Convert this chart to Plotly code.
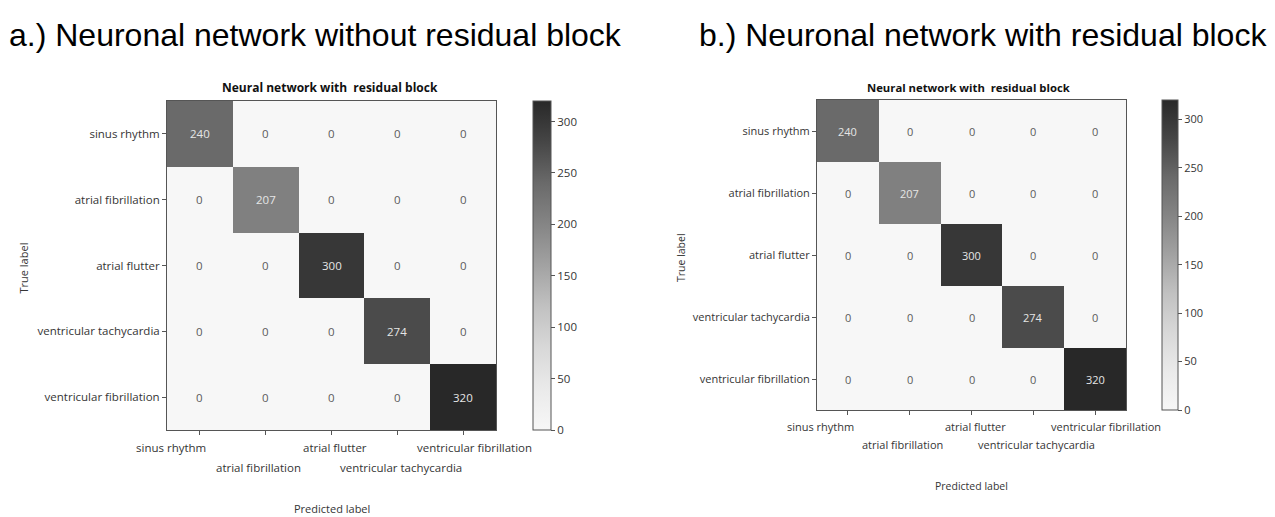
import plotly.graph_objects as go

# ---------------- data ----------------
classes = ["sinus rhythm", "atrial fibrillation", "atrial flutter",
           "ventricular tachycardia", "ventricular fibrillation"]
matrix_a = [[240, 0, 0, 0, 0],
            [0, 207, 0, 0, 0],
            [0, 0, 300, 0, 0],
            [0, 0, 0, 274, 0],
            [0, 0, 0, 0, 320]]
matrix_b = [[240, 0, 0, 0, 0],
            [0, 207, 0, 0, 0],
            [0, 0, 300, 0, 0],
            [0, 0, 0, 274, 0],
            [0, 0, 0, 0, 320]]
colorbar_ticks = [0, 50, 100, 150, 200, 250, 300]
title_a = "a.) Neuronal network without residual block"
title_b = "b.) Neuronal network with residual block"
sub_title = "Neural network with  residual block"

# ---------------- style ----------------
OFF = 8                      # page body margin of the html file
W, H = 1275 - OFF, 517 - OFF
FONT = "Open Sans"
TXT = "#353535"
LINE = "#555555"
# washed-out Greys colour scale
greys = [(0.0, 247), (0.125, 234), (0.25, 216), (0.375, 193), (0.5, 162),
         (0.625, 133), (0.75, 106), (0.875, 70), (1.0, 40)]
cscale = [[p, f"rgb({v},{v},{v})"] for p, v in greys]
ZMAX = max(max(r) for r in matrix_a)


def px_x(v):
    return (v - OFF) / W


def px_y(v):
    return 1 - (v - OFF) / H


panels = [
    dict(m=matrix_a, xa="x", ya="y", dom_x=(167, 496), dom_y=(101, 430),
         cb_x=533, cb_th=18, row1=447, row2=467, pred_y=508, true_x=23,
         title=title_a, title_x=315, sub_x=330, fs=11.5, sfs=12),
    dict(m=matrix_b, xa="x2", ya="y2", dom_x=(817, 1126), dom_y=(100, 410),
         cb_x=1162, cb_th=16, row1=426, row2=444, pred_y=486, true_x=681,
         title=title_b, title_x=983, sub_x=968, fs=11, sfs=11.3),
]
label_offsets = [-0.44, -0.11, 0.06, 0.05, 0.17]
label_rows = [1, 2, 1, 2, 1]

fig = go.Figure()
annotations = []
layout_axes = {}
for i, p in enumerate(panels):
    top, bot = p["dom_y"]
    fig.add_trace(go.Heatmap(
        z=p["m"], x=list(range(len(classes))), y=list(range(len(classes))),
        xaxis=p["xa"], yaxis=p["ya"], zmin=0, zmax=ZMAX,
        colorscale=cscale, hoverinfo="skip",
        colorbar=dict(
            x=px_x(p["cb_x"]), xanchor="left", xpad=0, ypad=0,
            y=px_y((top + bot) / 2), yanchor="middle",
            len=(bot - top) / H, lenmode="fraction",
            thickness=p["cb_th"], outlinewidth=1, outlinecolor=LINE,
            tickvals=colorbar_ticks, ticks="outside", ticklen=4,
            tickcolor=LINE, tickfont=dict(family=FONT, size=p["fs"], color=TXT),
        ),
    ))
    n = "" if i == 0 else "2"
    layout_axes["xaxis" + n] = dict(
        domain=[px_x(p["dom_x"][0]), px_x(p["dom_x"][1])],
        anchor="y" + n, range=[-0.5, 4.5], showgrid=False, zeroline=False,
        tickvals=list(range(5)), showticklabels=False, ticks="outside",
        ticklen=4, tickcolor=LINE, showline=True, mirror=True,
        linecolor=LINE, linewidth=1,
    )
    layout_axes["yaxis" + n] = dict(
        domain=[px_y(bot), px_y(top)], anchor="x" + n,
        range=[4.5, -0.5], showgrid=False, zeroline=False,
        tickvals=list(range(5)), ticktext=classes, ticks="outside",
        ticklen=4, tickcolor=LINE, showline=True, mirror=True,
        linecolor=LINE, linewidth=1,
        tickfont=dict(family=FONT, size=p["fs"], color=TXT),
    )
    # cell values
    for r, row in enumerate(p["m"]):
        for c, v in enumerate(row):
            annotations.append(dict(
                x=c, y=r, xref=p["xa"], yref=p["ya"], text=str(v),
                showarrow=False,
                font=dict(family=FONT, size=p["fs"],
                          color="#e6e6e6" if v > ZMAX / 2 else "#5a5a5a"),
            ))
    # staggered x tick labels
    for c, lab in enumerate(classes):
        yy = p["row1"] if label_rows[c] == 1 else p["row2"]
        annotations.append(dict(
            x=c + label_offsets[c], y=px_y(yy), xref=p["xa"], yref="paper",
            text=lab, showarrow=False, xanchor="center", yanchor="middle",
            font=dict(family=FONT, size=p["fs"], color=TXT),
        ))
    # axis titles
    annotations.append(dict(
        x=2, y=px_y(p["pred_y"]), xref=p["xa"], yref="paper",
        text="Predicted label", showarrow=False, xanchor="center",
        yanchor="middle",
        font=dict(family=FONT, size=p["fs"] - 0.5, color=TXT)))
    annotations.append(dict(
        x=px_x(p["true_x"]), y=px_y((top + bot) / 2 + 3), xref="paper",
        yref="paper", text="True label", showarrow=False, textangle=-90,
        xanchor="center", yanchor="middle",
        font=dict(family=FONT, size=p["fs"] - 0.5, color=TXT)))
    # subplot title (bold)
    annotations.append(dict(
        x=px_x(p["sub_x"]), y=px_y(87), xref="paper", yref="paper",
        text="<b>" + sub_title + "</b>", showarrow=False,
        xanchor="center", yanchor="middle",
        font=dict(family=FONT, size=p["sfs"], color="#111111")))
    # panel heading
    annotations.append(dict(
        x=px_x(p["title_x"]), y=px_y(35), xref="paper", yref="paper",
        text=p["title"], showarrow=False, xanchor="center", yanchor="middle",
        font=dict(family="Liberation Sans", size=32, color="#000000")))

fig.update_layout(
    width=W, height=H, margin=dict(l=0, r=0, t=0, b=0),
    paper_bgcolor="white", plot_bgcolor="white",
    showlegend=False, annotations=annotations, **layout_axes,
)
fig.write_html("out.html")
